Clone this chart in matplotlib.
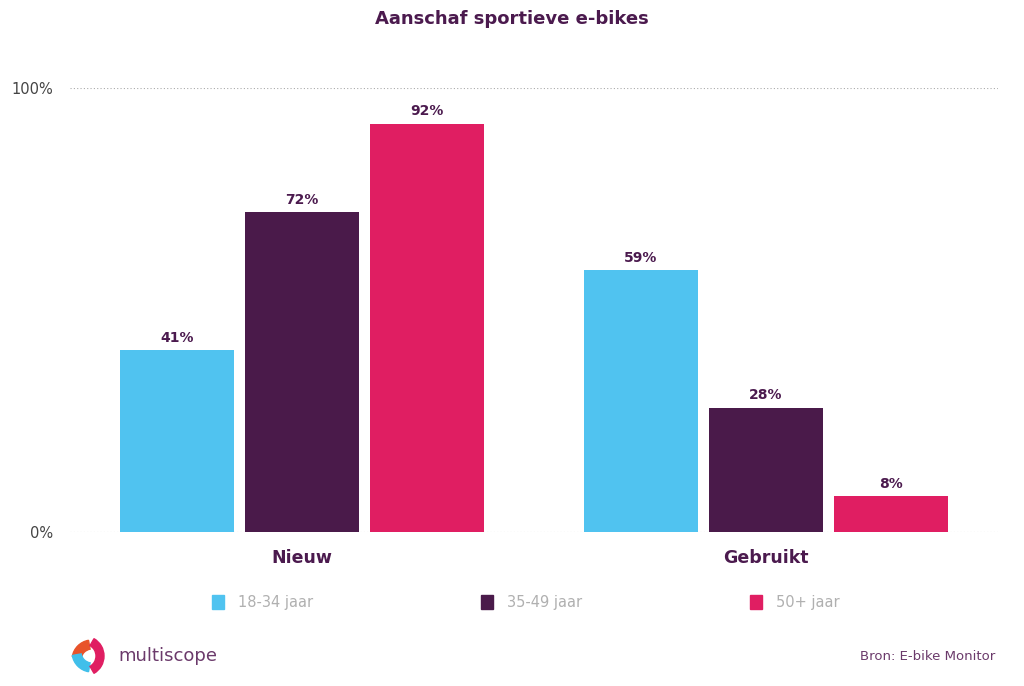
import numpy as np
import matplotlib.pyplot as plt
from matplotlib.patches import Rectangle, Wedge

# data
categories = ['Nieuw', 'Gebruikt']
series = ['18-34 jaar', '35-49 jaar', '50+ jaar']
values = {
    '18-34 jaar': [41, 59],
    '35-49 jaar': [72, 28],
    '50+ jaar': [92, 8],
}
colors = ['#50C3F0', '#4A1A4A', '#E01E62']
purple = '#4B1A4E'

fig = plt.figure(figsize=(10.24, 6.86), dpi=100)
ax = fig.add_axes([0.0684, 0.2245, 0.9062, 0.6472])

x = np.arange(len(categories))
width = 0.245
offsets = [-0.27, 0, 0.27]
for name, col, off in zip(series, colors, offsets):
    bars = ax.bar(x + off, values[name], width, color=col, zorder=3)
    for b, v in zip(bars, values[name]):
        ax.text(b.get_x() + b.get_width() / 2, v + 1.2, '{}%'.format(v),
                ha='center', va='bottom', fontsize=10, fontweight='bold',
                color=purple)

ax.set_xlim(-0.5, 1.5)
ax.set_ylim(0, 100)
ax.set_yticks([0, 100])
ax.set_yticklabels(['0%', '100%'], fontsize=10.5, color='#444444')
for y in [0, 100]:
    ax.axhline(y, color='#aaaaaa', linestyle=(0, (1, 2)), linewidth=0.8, zorder=1)
ax.set_xticks(x)
ax.set_xticklabels(categories, fontsize=12.5, color=purple, fontweight='bold')
ax.tick_params(axis='both', length=0)
ax.tick_params(axis='x', pad=12)
ax.tick_params(axis='y', pad=12)
for s in ax.spines.values():
    s.set_visible(False)

fig.text(0.5, 0.972, 'Aanschaf sportieve e-bikes', ha='center', va='center',
         fontsize=13, fontweight='bold', color=purple)

# legend
leg_x = [212, 481, 750]
for name, col, lx in zip(series, colors, leg_x):
    fig.patches.append(Rectangle((lx / 1024, 1 - 609 / 686), 12 / 1024, 14 / 686,
                                 transform=fig.transFigure, color=col))
    fig.text((lx + 26) / 1024, 1 - 602 / 686, name, ha='left', va='center',
             fontsize=10.5, color='#b0b0b0')

# logo
cx, cy = 88 / 1024, 1 - 656 / 686
lax = fig.add_axes([cx - 20 / 1024, cy - 20 / 686, 40 / 1024, 40 / 686])
lax.set_xlim(-1, 1)
lax.set_ylim(-1, 1)
lax.set_aspect('equal')
lax.axis('off')
lax.add_patch(Wedge((0.2, -0.2), 1.0, 100, 170, width=0.45, color='#E8532A'))
lax.add_patch(Wedge((0.2, 0.2), 1.0, 190, 260, width=0.45, color='#40BFEA'))
lax.add_patch(Wedge((-0.2, 0.0), 1.0, -60, 60, width=0.4, color='#E01E62'))
fig.text(118 / 1024, cy, 'multiscope', ha='left', va='center', fontsize=13,
         color='#6B3A6B')

fig.text(995 / 1024, 1 - 657 / 686, 'Bron: E-bike Monitor', ha='right',
         va='center', fontsize=9.5, color='#6B3A6B')

fig.savefig('out.png', dpi=100, facecolor='white')
